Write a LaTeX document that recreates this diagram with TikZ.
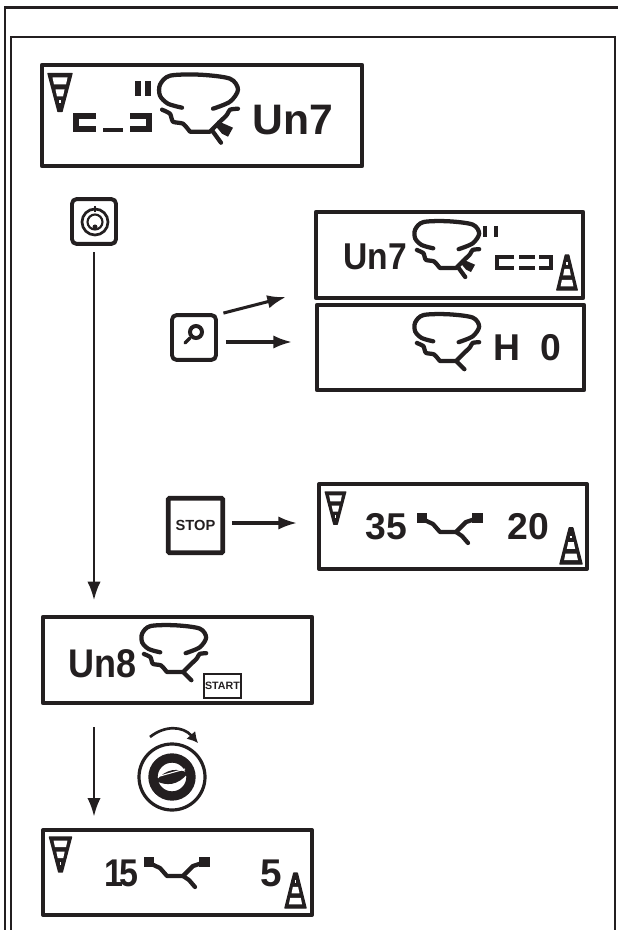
\documentclass[tikz,border=0pt]{standalone}
\usepackage{xcolor}
\usepackage{fontspec}
\setmainfont{Liberation Sans}
\usetikzlibrary{positioning, arrows.meta}
\definecolor{inkblack}{HTML}{231F20}

\tikzset{
    lcdbox/.style={draw=inkblack, line width=3.4pt, inner sep=0pt, outer sep=0pt, line join=round},
    lcdsize/.style 2 args={minimum width=#1*0.75pt, minimum height=#2*0.75pt},
    lcdtext/.style={text=inkblack, inner sep=0pt, anchor=base west, font=\fontsize{#1}{#1}\selectfont\bfseries},
    keybox/.style={draw=inkblack, line width=1.9pt, rounded corners=3pt, minimum width=32pt, minimum height=32.5pt, inner sep=0pt},
    keyrim/.style={draw=inkblack, line width=1.3pt, rounded corners=4pt},
    flowarrow/.style={draw=inkblack, line width=1.9pt, -{Latex[length=14pt,width=10pt]}},
    segline/.style={draw=inkblack, line width=4.2pt, line join=miter},
    smallseg/.style={draw=inkblack, line width=3.4pt, line join=miter},
    frameline/.style={draw=inkblack, line width=2pt},
    tyreline/.style={draw=inkblack, line width=3.2pt, line cap=round, line join=round},
    conemark/.pic={
        \fill[inkblack, draw=inkblack, line width=1pt, line join=round] (-12,0) -- (12,0) -- (2,38) -- (-2,38) -- cycle;
        \fill[white] (-7.5,4) -- (7.5,4) -- (6,11) -- (-6,11) -- cycle;
        \fill[white] (-4.5,16) -- (4.5,16) -- (3,23) -- (-3,23) -- cycle;
        \fill[white] (-1,27) -- (1,27) -- (1,30) -- (-1,30) -- cycle;
    },
    tyrering/.pic={
        \draw[tyreline] plot[smooth] coordinates {(-18,-24) (-32,-28) (-40,-36) (-40,-47) (-30,-56) (0,-57) (30,-53) (38,-42) (30,-30) (13,-23)};
        \draw[tyreline] plot[smooth, tension=.4] coordinates {(-38,-22) (-30,-18) (-27,-10) (-17,-8) (-10,0)} -- (10,0)
            -- plot[smooth, tension=.4] coordinates {(10,0) (20,-10) (27,-17) (30,-22) (38,-23)};
    },
    tyrestem/.pic={
        \draw[tyreline] (10,0) -- (20,10);
    },
    tyreweight/.pic={
        \draw[tyreline] (13,0) -- (21,11);
        \fill[inkblack] (17,-11) -- (33,-4) -- (28,5) -- (22,2) -- (17,-4) -- cycle;
    },
    rimmark/.pic={
        \draw[tyreline] (-28,-14) -- (-15,-8) -- (-8,0) -- (8,0) -- (18,-10) -- (30,-14);
        \draw[tyreline] (8,0) -- (14,4) -- (20,11);
        \fill[inkblack] (-31,-19) rectangle (-21,-9);
        \fill[inkblack] (24,-19) rectangle (35,-9);
    }
}

\begin{document}
\begin{tikzpicture}[x=0.75pt, y=-0.75pt]
    \path[use as bounding box] (0,0) rectangle (618,930);
    % page frames
    \draw[frameline] (5,930) -- (5,7.5) -- (618,7.5);
    \draw[frameline] (11,930) -- (11,37) -- (615,37) -- (615,930);

    % displays
    \node[lcdbox, lcdsize={320}{101}] (sizebox) at (202,115.5) {};
    \node[lcdbox, lcdsize={267}{86}] (unitbox) at (449.5,255) {};
    \node[lcdbox, lcdsize={267}{85}] (holebox) at (450.5,347.5) {};
    \node[lcdbox, lcdsize={268}{85}, line width=3pt] (speedbox) at (453,526.5) {};
    \node[lcdbox, lcdsize={269}{86}] (startbox) at (177.5,660) {};
    \node[lcdbox, lcdsize={269}{85}, line width=3pt] (resultbox) at (177.5,872.5) {};

    % first display
    \pic at (60,73.5) {conemark};
    \draw[segline] (96,116) -- (76,116) -- (76,129) -- (96,129);
    \draw[segline, line width=3pt] (103,130) -- (123,130);
    \draw[segline] (130,116) -- (149,116) -- (149,129) -- (130,129);
    \draw[segline] (138,81) -- (138,96);
    \draw[segline] (148,81) -- (148,96);
    \pic at (200,131.7) {tyrering};
    \pic at (200,131.7) {tyreweight};
    \node[lcdtext=32] (sizeunit) at (252,135) {Un7};

    % second display
    \node[lcdtext=28, xscale=.9] (unitname) at (343,270) {Un7};
    \pic[scale=.82] at (448,268) {tyrering};
    \pic[scale=.82] at (448,268) {tyreweight};
    \draw[smallseg] (485,226) -- (485,237);
    \draw[smallseg] (496,226) -- (496,237);
    \draw[smallseg] (514,257) -- (497,257) -- (497,268) -- (514,268);
    \draw[smallseg] (519,257) -- (535,257);
    \draw[smallseg] (519,268) -- (535,268);
    \draw[smallseg] (539,257) -- (551,257) -- (551,268) -- (539,268);
    \pic[xscale=.85, yscale=-.92] at (567,290) {conemark};

    % third display
    \pic[scale=.82] at (448,361) {tyrering};
    \pic[scale=.82] at (448,361) {tyrestem};
    \node[lcdtext=28] (holevalue) at (493,360) {H\ \ 0};

    % fourth display
    \pic[scale=.85] at (335.5,492) {conemark};
    \node[lcdtext=28] (speedleft) at (365,539) {35};
    \pic at (448,532) {rimmark};
    \node[lcdtext=28] (speedright) at (507,539) {20};
    \pic[xscale=.92, yscale=-.95] at (571,564) {conemark};

    % fifth display
    \node[lcdtext=30, xscale=.9] (startname) at (68,677) {Un8};
    \pic[scale=.82] at (175,672) {tyrering};
    \pic[scale=.82] at (175,672) {tyrestem};
    \node[draw=inkblack, line width=1.4pt, minimum width=27.5pt, minimum height=18pt, inner sep=0pt,
          font=\fontsize{8}{8}\selectfont\bfseries, text=inkblack] (startkey) at (222.5,686) {START};

    % last display
    \pic[scale=.92] at (60.5,837) {conemark};
    \node[lcdtext=29, xscale=.88] (resultleft) at (104,886) {1\kern-.1em 5};
    \pic at (175,876) {rimmark};
    \node[lcdtext=29] (resultright) at (260,886) {5};
    \pic[xscale=.88, yscale=-.92] at (295.5,908) {conemark};

    % keys
    \node[keybox] (dialkey) at (94,221.5) {};
    \draw[keyrim] (71,198) rectangle (117,245);
    \draw[inkblack, line width=2pt] (95,222) circle (13);
    \draw[inkblack, line width=1.6pt] (95,222) circle (7.5);
    \fill[inkblack] (95,227) circle (2.5);
    \draw[inkblack, line width=1.5pt] (95,206) -- (95,212);

    \node[keybox] (lenskey) at (194,337.5) {};
    \draw[keyrim] (171,314) rectangle (217,361);
    \draw[inkblack, line width=3pt] (196,332) circle (6);
    \draw[inkblack, line width=2.4pt, line cap=round] (190,338) -- (185,343);

    \node[draw=inkblack, line width=3.6pt, rounded corners=1pt, minimum width=41pt, minimum height=41pt, inner sep=0pt,
          font=\fontsize{11}{11}\selectfont\bfseries, text=inkblack] (stopkey) at (195.5,525.5) {STOP};

    % rotating wheel
    \draw[inkblack, line width=2.4pt] (172,777) circle (33);
    \draw[inkblack, line width=7pt] (172,777) circle (19);
    \fill[inkblack] (156,781) .. controls (166,768) and (178,768) .. (188,773) .. controls (178,786) and (166,786) .. (156,781);
    \draw[white, line width=.8pt] (160,776) -- (185,769);
    \coordinate (wheelfrom) at (150,737);
    \coordinate (wheelto) at (198,743);
    \draw[inkblack, line width=2pt, -{Latex[length=8pt,width=9pt]}] (wheelfrom) .. controls (165,725) and (183,726) .. (wheelto);

    % arrows
    \coordinate (lensup) at (286,297);
    \coordinate (lensmid) at (292,342);
    \coordinate (stoptip) at (297,523);
    \draw[flowarrow, shorten <=5.5pt, shorten >=12.5pt] (dialkey.south |- 94,245) -- (dialkey.south |- startbox.north);
    \draw[flowarrow, line width=2.3pt, shorten <=4.5pt] (lenskey.north east) ++(1,0) -- (lensup);
    \draw[flowarrow, line width=2.3pt, shorten <=7pt] (lenskey.east |- lensmid) -- (lensmid);
    \draw[flowarrow, line width=2.3pt, shorten <=5pt] (stopkey.east |- stoptip) -- (stoptip);
    \draw[flowarrow, shorten <=18pt, shorten >=10pt] (dialkey.south |- startbox.south) -- (dialkey.south |- resultbox.north);
\end{tikzpicture}
\end{document}
